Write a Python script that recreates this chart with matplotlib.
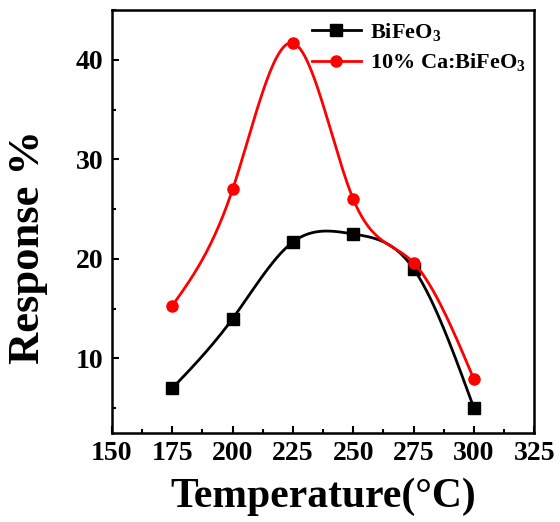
import numpy as np
import matplotlib
matplotlib.use("Agg")
import matplotlib.pyplot as plt
from matplotlib.ticker import AutoMinorLocator

temperature = [175, 200, 225, 250, 275, 300]
bifeo3 = [7.0, 14.0, 21.7, 22.5, 19.0, 5.0]
ca_bifeo3 = [15.3, 27.0, 41.7, 26.0, 19.6, 7.9]
x_ticks = [150, 175, 200, 225, 250, 275, 300, 325]
y_ticks = [10, 20, 30, 40]
labels = ["BiFeO$_\\mathbf{3}$", "10% Ca:BiFeO$_\\mathbf{3}$"]


def natural_spline(x, y, n=300):
    x = np.asarray(x, float)
    y = np.asarray(y, float)
    m = len(x)
    h = np.diff(x)
    A = np.zeros((m, m))
    b = np.zeros(m)
    A[0, 0] = 1
    A[-1, -1] = 1
    for i in range(1, m - 1):
        A[i, i - 1] = h[i - 1]
        A[i, i] = 2 * (h[i - 1] + h[i])
        A[i, i + 1] = h[i]
        b[i] = 6 * ((y[i + 1] - y[i]) / h[i] - (y[i] - y[i - 1]) / h[i - 1])
    M = np.linalg.solve(A, b)
    xs = np.linspace(x[0], x[-1], n)
    ys = np.empty_like(xs)
    for k, xv in enumerate(xs):
        i = min(np.searchsorted(x, xv, side="right") - 1, m - 2)
        t1 = x[i + 1] - xv
        t0 = xv - x[i]
        ys[k] = (M[i] * t1 ** 3 / (6 * h[i]) + M[i + 1] * t0 ** 3 / (6 * h[i])
                 + (y[i] / h[i] - M[i] * h[i] / 6) * t1
                 + (y[i + 1] / h[i] - M[i + 1] * h[i] / 6) * t0)
    return xs, ys


plt.rcParams["font.family"] = ["Liberation Serif", "DejaVu Serif"]
plt.rcParams["font.weight"] = "bold"
plt.rcParams["mathtext.fontset"] = "custom"
plt.rcParams["mathtext.rm"] = "Liberation Serif:bold"
plt.rcParams["mathtext.bf"] = "Liberation Serif:bold"

fig = plt.figure(figsize=(5.6, 5.22), dpi=100)
ax = fig.add_axes([0.2, 0.1705, 0.754, 0.81])

for ys, color, marker, lab in [(bifeo3, "black", "s", labels[0]),
                               (ca_bifeo3, "red", "o", labels[1])]:
    sx, sy = natural_spline(temperature, ys)
    ax.plot(sx, sy, color=color, lw=2)
    ax.plot(temperature, ys, ls="none", marker=marker, color=color, ms=8)
    ax.plot([], [], color=color, lw=2, marker=marker, ms=8, label=lab)

ax.set_xlim(150, 325)
ax.set_ylim(2.5, 45)
ax.set_xticks(x_ticks)
ax.set_yticks(y_ticks)
ax.xaxis.set_minor_locator(AutoMinorLocator(2))
ax.yaxis.set_minor_locator(AutoMinorLocator(2))
ax.tick_params(which="both", direction="in", width=1.5)
ax.tick_params(which="major", length=5, labelsize=20, pad=6)
ax.tick_params(which="minor", length=3)
for s in ax.spines.values():
    s.set_linewidth(1.8)
for t in ax.get_xticklabels() + ax.get_yticklabels():
    t.set_fontweight("bold")

ax.set_xlabel("Temperature(°C)", fontsize=30, fontweight="bold", labelpad=8)
ax.set_ylabel("Response %", fontsize=32, fontweight="bold")
ax.yaxis.set_label_coords(-0.151, 0.44)

leg = ax.legend(loc="upper right", frameon=False,
                bbox_to_anchor=(0.995, 0.99),
                handlelength=2.2, handletextpad=0.4, labelspacing=0.35,
                borderaxespad=0.0, borderpad=0.3,
                prop={"weight": "bold", "size": 16})

fig.savefig("out.png", dpi=100)
